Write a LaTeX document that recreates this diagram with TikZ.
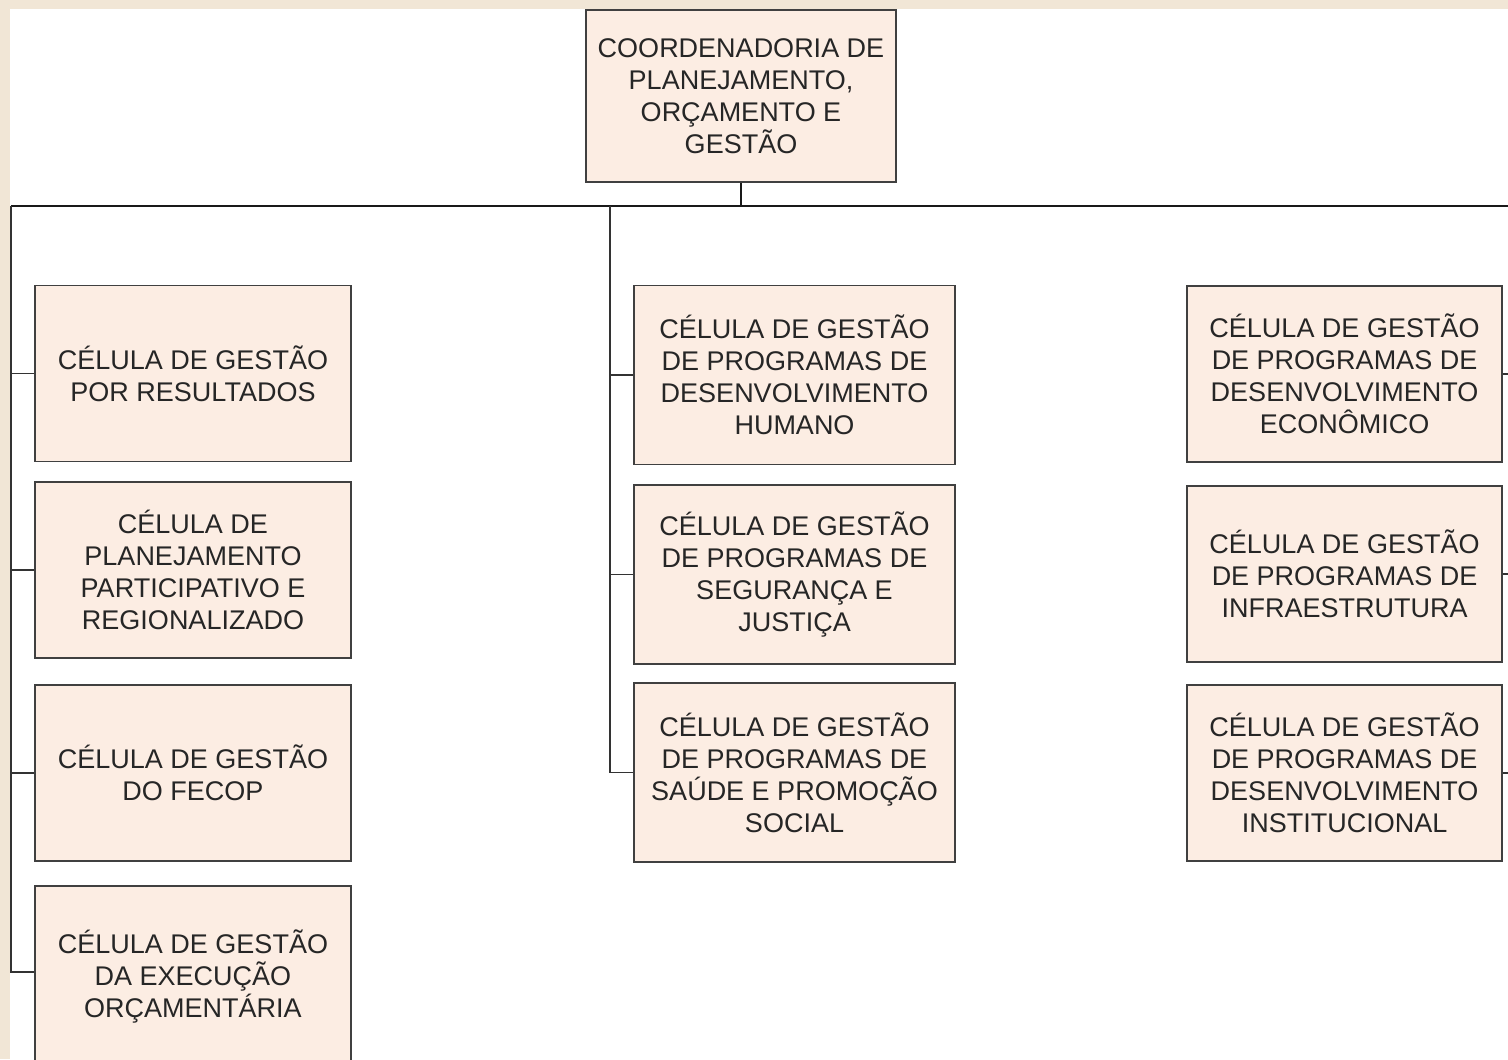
\documentclass[tikz,border=0pt]{standalone}
\usepackage{fontspec}
\setmainfont{Liberation Sans}
\definecolor{cellfill}{RGB}{252,237,227}
\definecolor{pageframe}{RGB}{241,230,214}
\tikzset{
  cell/.style={draw=black!75, line width=0.7pt, fill=cellfill, align=center,
    text=black!85, inner sep=0pt, font=\fontsize{13.5}{16}\selectfont},
  leftcell/.style={cell, minimum width=158pt, minimum height=88pt},
  midcell/.style={cell, minimum width=160.5pt, minimum height=89.5pt},
  rightcell/.style={cell, minimum width=157.5pt, minimum height=88pt},
  link/.style={draw=black!80, line width=0.8pt}
}
\begin{document}
\begin{tikzpicture}[x=0.5pt,y=-0.5pt]
\useasboundingbox (0,0) rectangle (1508,1059);
\fill[pageframe] (0,0) rectangle (1508,1059);
\fill[white] (10,9) rectangle (1508,1059);
% coordenadoria
\node[cell, minimum width=155pt, minimum height=86pt] at (741,96) (Top)
  {COORDENADORIA DE\\PLANEJAMENTO,\\ORÇAMENTO E\\GESTÃO};
% column trunks
\coordinate (Bar) at (741,206);
\coordinate (LeftTrunk) at (11,206);
\coordinate (MidTrunk) at (610,206);
\coordinate (RightTrunk) at (1514,206);
% left column
\node[leftcell] at (193,373.5) (Left1) {CÉLULA DE GESTÃO\\POR RESULTADOS};
\node[leftcell] at (193,570) (Left2) {CÉLULA DE\\PLANEJAMENTO\\PARTICIPATIVO E\\REGIONALIZADO};
\node[leftcell] at (193,773) (Left3) {CÉLULA DE GESTÃO\\DO FECOP};
\node[leftcell, minimum height=90pt] at (193,976) (Left4) {CÉLULA DE GESTÃO\\DA EXECUÇÃO\\ORÇAMENTÁRIA};
% middle column
\node[midcell] at (794.5,375) (Mid1) {CÉLULA DE GESTÃO\\DE PROGRAMAS DE\\DESENVOLVIMENTO\\HUMANO};
\node[midcell] at (794.5,574.5) (Mid2) {CÉLULA DE GESTÃO\\DE PROGRAMAS DE\\SEGURANÇA E\\JUSTIÇA};
\node[midcell] at (794.5,772.5) (Mid3) {CÉLULA DE GESTÃO\\DE PROGRAMAS DE\\SAÚDE E PROMOÇÃO\\SOCIAL};
% right column
\node[rightcell] at (1344.5,374) (Right1) {CÉLULA DE GESTÃO\\DE PROGRAMAS DE\\DESENVOLVIMENTO\\ECONÔMICO};
\node[rightcell] at (1344.5,574) (Right2) {CÉLULA DE GESTÃO\\DE PROGRAMAS DE\\INFRAESTRUTURA};
\node[rightcell] at (1344.5,773) (Right3) {CÉLULA DE GESTÃO\\DE PROGRAMAS DE\\DESENVOLVIMENTO\\INSTITUCIONAL};
% connectors
\draw[black!90, line width=1.1pt] (Top.south) -- (Bar);
\draw[black!90, line width=1.1pt] (LeftTrunk) -- (RightTrunk);
\draw[link] (LeftTrunk) |- (Left1.west);
\draw[link] (LeftTrunk) |- (Left2.west);
\draw[link] (LeftTrunk) |- (Left3.west);
\draw[link] (LeftTrunk) |- ([yshift=2pt]Left4.west);
\draw[link] (MidTrunk) |- (Mid1.west);
\draw[link] (MidTrunk) |- (Mid2.west);
\draw[link] (MidTrunk) |- (Mid3.west);
\draw[link] (RightTrunk) |- (Right1.east);
\draw[link] (RightTrunk) |- (Right2.east);
\draw[link] (RightTrunk) |- (Right3.east);
\end{tikzpicture}
\end{document}
